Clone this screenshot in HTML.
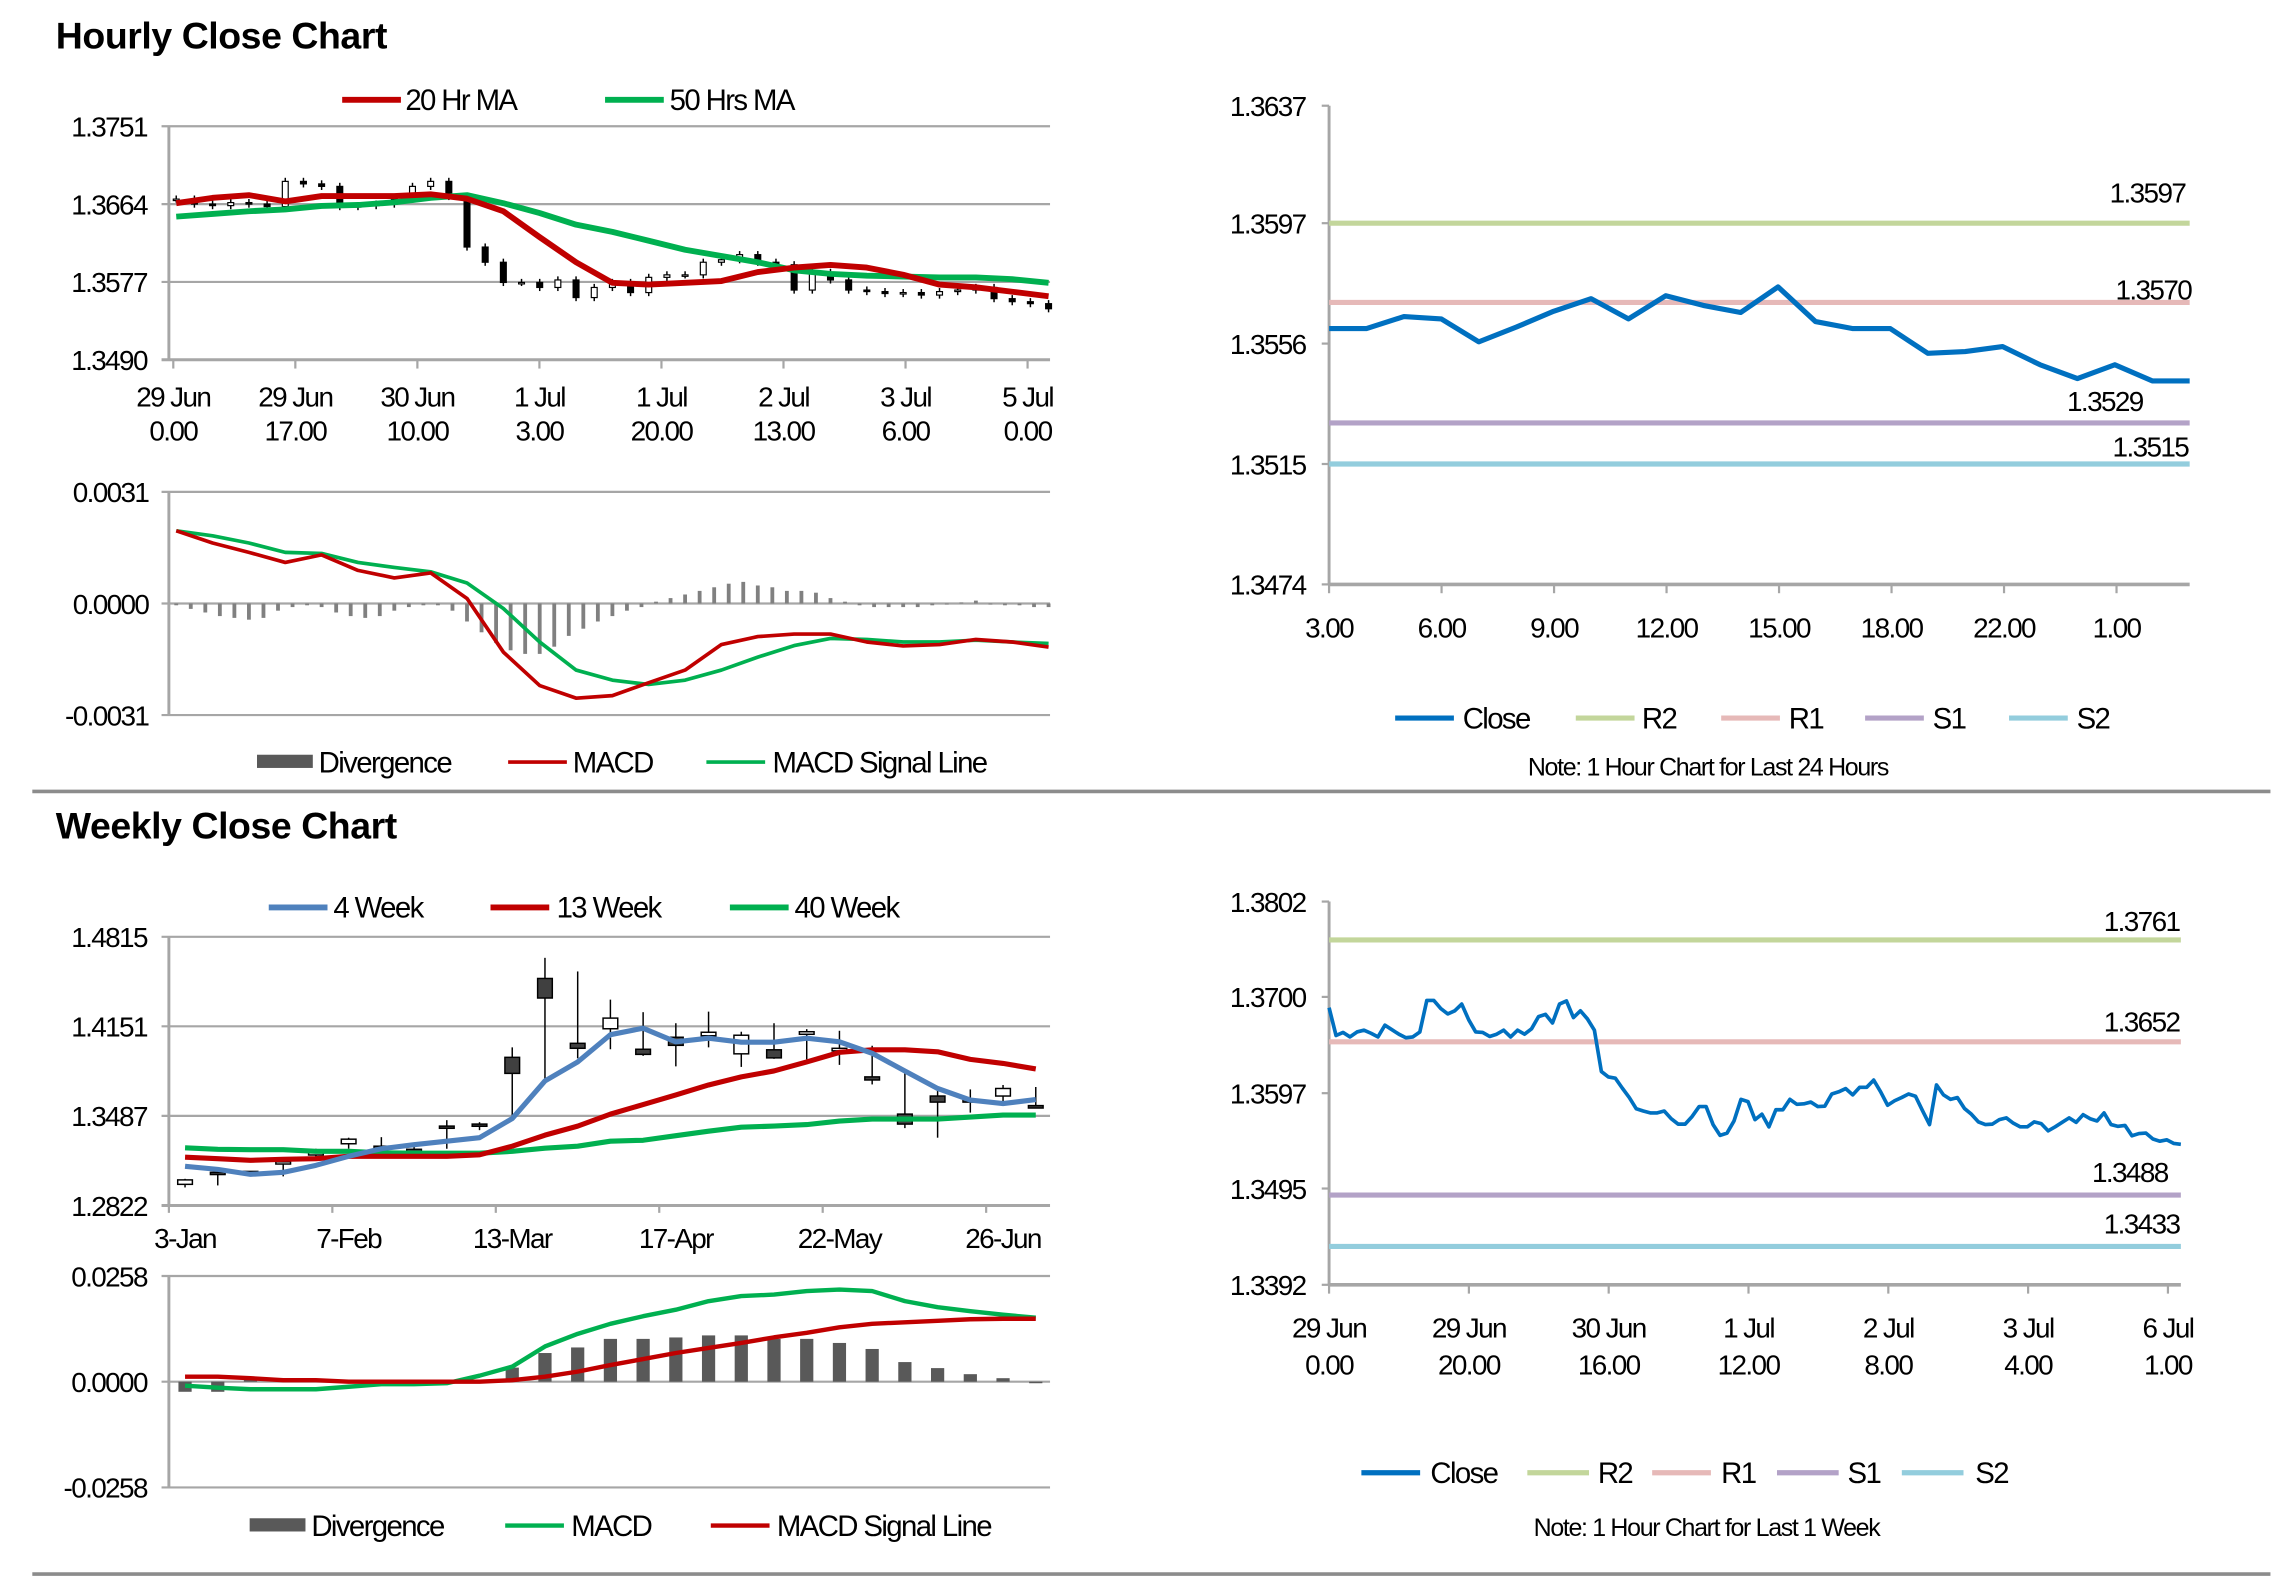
<!DOCTYPE html>
<html><head><meta charset="utf-8"><style>
html,body{margin:0;padding:0;background:#fff;}
svg{display:block;}
text{font-family:"Liberation Sans Narrow","Liberation Sans",sans-serif;fill:#000;}
.t{font-family:"Liberation Sans",sans-serif;font-weight:bold;font-size:25.5px;letter-spacing:-0.3px;}
.tk{font-size:19px;letter-spacing:-1.1px;}
.lg{font-size:20px;letter-spacing:-1.1px;}
.nt{font-size:17px;letter-spacing:-0.9px;}
</style></head><body>
<svg id="chart" width="2291" height="1577" viewBox="0 0 1560 1074" preserveAspectRatio="none" xmlns="http://www.w3.org/2000/svg">
<text class="t" x="38" y="33">Hourly Close Chart</text>
<text class="t" x="38" y="571">Weekly Close Chart</text>
<line x1="22" y1="539" x2="1546" y2="539" stroke="#8c8c8c" stroke-width="2.5"/>
<line x1="22" y1="1072" x2="1546" y2="1072" stroke="#8c8c8c" stroke-width="2.5"/>

<g>
<line x1="233" y1="68" x2="273" y2="68" stroke="#c00000" stroke-width="4"/>
<text class="lg" x="276" y="75">20 Hr MA</text>
<line x1="412" y1="68" x2="452" y2="68" stroke="#00b050" stroke-width="4"/>
<text class="lg" x="456" y="75">50 Hrs MA</text>
</g>
<g>
<rect x="175" y="514" width="38" height="9" fill="#595959"/>
<text class="lg" x="217" y="526">Divergence</text>
<line x1="346" y1="519" x2="386" y2="519" stroke="#c00000" stroke-width="2.5"/>
<text class="lg" x="390" y="526">MACD</text>
<line x1="481" y1="519" x2="521" y2="519" stroke="#00b050" stroke-width="2.5"/>
<text class="lg" x="526" y="526">MACD Signal Line</text>
</g>
<g>
<line x1="183" y1="618" x2="223" y2="618" stroke="#4f81bd" stroke-width="4"/>
<text class="lg" x="227" y="625">4 Week</text>
<line x1="334" y1="618" x2="374" y2="618" stroke="#c00000" stroke-width="4"/>
<text class="lg" x="379" y="625">13 Week</text>
<line x1="497" y1="618" x2="537" y2="618" stroke="#00b050" stroke-width="4"/>
<text class="lg" x="541" y="625">40 Week</text>
</g>
<g>
<rect x="170" y="1034" width="38" height="9" fill="#595959"/>
<text class="lg" x="212" y="1046">Divergence</text>
<line x1="344" y1="1039" x2="384" y2="1039" stroke="#00b050" stroke-width="3"/>
<text class="lg" x="389" y="1046">MACD</text>
<line x1="484" y1="1039" x2="524" y2="1039" stroke="#c00000" stroke-width="3"/>
<text class="lg" x="529" y="1046">MACD Signal Line</text>
</g>
<g>
<line x1="950" y1="489" x2="990" y2="489" stroke="#0070c0" stroke-width="3.5"/>
<text class="lg" x="996" y="496">Close</text>
<line x1="1073" y1="489" x2="1113" y2="489" stroke="#c3d69b" stroke-width="3.5"/>
<text class="lg" x="1118" y="496">R2</text>
<line x1="1172" y1="489" x2="1212" y2="489" stroke="#e6b9b8" stroke-width="3.5"/>
<text class="lg" x="1218" y="496">R1</text>
<line x1="1270" y1="489" x2="1310" y2="489" stroke="#b3a2c7" stroke-width="3.5"/>
<text class="lg" x="1316" y="496">S1</text>
<line x1="1368" y1="489" x2="1408" y2="489" stroke="#93cddd" stroke-width="3.5"/>
<text class="lg" x="1414" y="496">S2</text>
<text class="nt" x="1163" y="528" text-anchor="middle">Note: 1 Hour Chart for Last 24 Hours</text>
</g>
<g>
<line x1="927" y1="1003" x2="967" y2="1003" stroke="#0070c0" stroke-width="3.5"/>
<text class="lg" x="974" y="1010">Close</text>
<line x1="1040" y1="1003" x2="1082" y2="1003" stroke="#c3d69b" stroke-width="3.5"/>
<text class="lg" x="1088" y="1010">R2</text>
<line x1="1125" y1="1003" x2="1165" y2="1003" stroke="#e6b9b8" stroke-width="3.5"/>
<text class="lg" x="1172" y="1010">R1</text>
<line x1="1210" y1="1003" x2="1252" y2="1003" stroke="#b3a2c7" stroke-width="3.5"/>
<text class="lg" x="1258" y="1010">S1</text>
<line x1="1295" y1="1003" x2="1337" y2="1003" stroke="#93cddd" stroke-width="3.5"/>
<text class="lg" x="1345" y="1010">S2</text>
<text class="nt" x="1162" y="1046" text-anchor="middle">Note: 1 Hour Chart for  Last 1 Week</text>
</g>
</svg>
<script>
// ---- Hourly candle chart data ----
const hCloses=[1.36696,1.36640,1.36623,1.36657,1.36640,1.36612,1.36894,1.36866,1.36838,1.36612,1.36623,1.36640,1.36696,1.36838,1.36894,1.36725,1.36160,1.35990,1.35764,1.35764,1.35708,1.35792,1.35595,1.35708,1.35764,1.35651,1.35821,1.35849,1.35849,1.35990,1.36018,1.36075,1.35990,1.35962,1.35679,1.35877,1.35792,1.35679,1.35662,1.35640,1.35651,1.35623,1.35662,1.35679,1.35708,1.35583,1.35549,1.35527,1.35470];
const hMA20=[1.3665,1.3671,1.3674,1.3667,1.3673,1.3673,1.3673,1.3675,1.3670,1.3656,1.3627,1.3599,1.3576,1.3574,1.3576,1.3578,1.3588,1.3593,1.3596,1.3593,1.3585,1.3574,1.3571,1.3566,1.3561];
const hMA50=[1.3650,1.3653,1.3656,1.3658,1.3662,1.3663,1.3666,1.3671,1.3674,1.3665,1.3654,1.3641,1.3633,1.3623,1.3613,1.3606,1.3599,1.3590,1.3586,1.3584,1.3583,1.3582,1.3582,1.3580,1.3576];
const hYTicks=['1.3751','1.3664','1.3577','1.3490'];
const hXTicks1=['29 Jun','29 Jun','30 Jun','1 Jul','1 Jul','2 Jul','3 Jul','5 Jul'];
const hXTicks2=['0.00','17.00','10.00','3.00','20.00','13.00','6.00','0.00'];
// ---- Hourly MACD (x1e-4) ----
const hMacd=[20.2,16.8,14.2,11.4,13.5,9.2,7.1,8.5,1.4,-13.5,-22.8,-26.3,-25.6,-22.0,-18.5,-11.4,-9.2,-8.5,-8.5,-10.7,-11.8,-11.4,-10.0,-10.7,-12.1];
const hSignal=[20.2,18.8,16.8,14.2,13.9,11.4,10.0,8.8,5.7,-1.4,-10.7,-18.5,-21.3,-22.5,-21.3,-18.5,-14.9,-11.7,-9.7,-10.0,-10.7,-10.7,-10.2,-10.7,-11.1];
const hDiv=[-0.5,-1.5,-2.5,-3.5,-4,-4.5,-4,-2,-1,-0.5,-1,-2.5,-3.5,-4,-3.5,-2,-1,-0.5,-0.5,-2,-5,-8,-11,-13,-14,-14,-12,-9,-7,-5,-3.5,-2,-1,0.5,1.5,2.5,3.5,4.5,5.5,6,5,4.5,3.5,3.5,3,1.5,0.5,-0.5,-1,-1,-1,-1,-0.5,-0.3,0.3,0.8,-0.3,-0.5,-0.5,-1,-1];
const hMacdTicks=['0.0031','0.0000','-0.0031'];
// ---- Weekly ----
const wOpen=[1.2979,1.3068,1.3061,1.3131,1.3198,1.3280,1.3262,1.3239,1.3411,1.3426,1.3921,1.4506,1.4025,1.4133,1.3981,1.4070,1.4081,1.3947,1.3977,1.4092,1.3969,1.3776,1.3500,1.3634,1.3608,1.3634,1.3563];
const wClose=[1.3012,1.3057,1.3075,1.3146,1.3213,1.3314,1.3243,1.3228,1.3396,1.3411,1.3802,1.4361,1.3988,1.4212,1.3943,1.4010,1.4107,1.4085,1.3917,1.4111,1.3988,1.3753,1.3426,1.3589,1.3589,1.3690,1.3545];
const wHigh=[1.3020,1.3094,1.3075,1.3169,1.3243,1.3325,1.3329,1.3262,1.3455,1.3440,1.3995,1.4659,1.4558,1.4349,1.4256,1.4174,1.4260,1.4111,1.4174,1.4130,1.4118,1.4007,1.3802,1.3671,1.3683,1.3716,1.3701];
const wLow=[1.2956,1.2971,1.3046,1.3038,1.3180,1.3243,1.3217,1.3217,1.3243,1.3381,1.3485,1.3746,1.3914,1.3981,1.3932,1.3854,1.3995,1.3850,1.3910,1.3906,1.3865,1.3720,1.3396,1.3325,1.3511,1.3560,1.3545];
const w4=[1.3113,1.3090,1.3053,1.3068,1.3120,1.3187,1.3243,1.3273,1.3299,1.3325,1.3467,1.3746,1.3887,1.4089,1.4137,1.4036,1.4063,1.4033,1.4033,1.4063,1.4036,1.3951,1.3820,1.3690,1.3604,1.3578,1.3608];
const w13=[1.3180,1.3169,1.3157,1.3165,1.3169,1.3187,1.3187,1.3187,1.3187,1.3198,1.3262,1.3344,1.3411,1.3500,1.3571,1.3642,1.3716,1.3776,1.3820,1.3887,1.3958,1.3977,1.3977,1.3962,1.3906,1.3876,1.3835];
const w40=[1.3250,1.3239,1.3236,1.3236,1.3224,1.3224,1.3213,1.3210,1.3210,1.3210,1.3224,1.3247,1.3262,1.3299,1.3306,1.3340,1.3373,1.3403,1.3411,1.3422,1.3448,1.3463,1.3463,1.3463,1.3478,1.3493,1.3493];
const wYTicks=['1.4815','1.4151','1.3487','1.2822'];
const wXTicks=['3-Jan','7-Feb','13-Mar','17-Apr','22-May','26-Jun'];
const wMacd=[-9.8,-14.7,-18.4,-18.4,-18.4,-12.3,-6.1,-6.1,-3.7,14.7,36.9,86,116.8,141.3,159.8,175.7,196.6,208.9,212.6,221.2,224.9,221.2,196.6,181.9,172.1,163.5,156.1];
const wSignal=[12.3,12.3,8.6,3.7,3.7,0,0,0,0,0,3.7,12.3,24.6,40.6,55.3,70.1,82.3,94.6,108.2,119.2,132.7,141.3,145,148.7,152.4,153.6,153.6];
const wDiv=[-24.6,-24.6,6,6,6,2,1,1,1,1,34.4,70,83.6,104.5,104.5,108,113,113,104.5,104.5,94.6,79.9,47.9,33.2,18.4,8.6,-3.7];
const wMacdTicks=['0.0258','0.0000','-0.0258'];
// ---- Last 24 hours ----
const dClose=[1.35611,1.35611,1.35652,1.35644,1.35566,1.35616,1.35670,1.35713,1.35644,1.35723,1.35690,1.35666,1.35753,1.35635,1.35611,1.35611,1.35527,1.35533,1.35550,1.35488,1.35441,1.35488,1.35433,1.35433];
const dLevels=[1.3597,1.3570,1.3529,1.3515];
const dLevelLabels=['1.3597','1.3570','1.3529','1.3515'];
const dYTicks=['1.3637','1.3597','1.3556','1.3515','1.3474'];
const dXTicks=['3.00','6.00','9.00','12.00','15.00','18.00','22.00','1.00'];
// ---- Last week ----
const kClose=[1.36885,1.36587,1.36620,1.36572,1.36625,1.36644,1.36611,1.36572,1.36697,1.36649,1.36601,1.36563,1.36572,1.36625,1.36962,1.36962,1.36875,1.36818,1.36851,1.36923,1.36755,1.36625,1.36620,1.36577,1.36601,1.36644,1.36572,1.36644,1.36601,1.36659,1.36789,1.36813,1.36721,1.36923,1.36957,1.36779,1.36851,1.36765,1.36644,1.36202,1.36144,1.36130,1.36024,1.35923,1.35803,1.35779,1.35759,1.35759,1.35779,1.35697,1.35639,1.35639,1.35721,1.35827,1.35827,1.35634,1.35519,1.35543,1.35673,1.35904,1.35880,1.35687,1.35745,1.35610,1.35793,1.35793,1.35904,1.35851,1.35856,1.35875,1.35827,1.35831,1.35961,1.35985,1.36019,1.35952,1.36033,1.36033,1.36110,1.35985,1.35841,1.35889,1.35923,1.35961,1.35937,1.35783,1.35634,1.36058,1.35952,1.35904,1.35923,1.35807,1.35745,1.35663,1.35634,1.35639,1.35687,1.35706,1.35649,1.35610,1.35610,1.35663,1.35644,1.35567,1.35610,1.35658,1.35706,1.35658,1.35740,1.35697,1.35673,1.35759,1.35634,1.35615,1.35625,1.35514,1.35538,1.35543,1.35480,1.35456,1.35471,1.35432,1.35423];
const kLevels=[1.3761,1.3652,1.3488,1.3433];
const kLevelLabels=['1.3761','1.3652','1.3488','1.3433'];
const kYTicks=['1.3802','1.3700','1.3597','1.3495','1.3392'];
const kXTicks1=['29 Jun','29 Jun','30 Jun','1 Jul','2 Jul','3 Jul','6 Jul'];
const kXTicks2=['0.00','20.00','16.00','12.00','8.00','4.00','1.00'];

const NS='http://www.w3.org/2000/svg';
const svg=document.getElementById('chart');
function mk(tag,attrs,parent){const e=document.createElementNS(NS,tag);for(const k in attrs)e.setAttribute(k,attrs[k]);(parent||svg).appendChild(e);return e;}
function scale(d0,d1,r0,r1){return v=>r0+(v-d0)*(r1-r0)/(d1-d0);}
function spread(n,a,b){return i=>a+i*(b-a)/(n-1);}
function pts(arr,xf,yf){return arr.map((v,i)=>xf(i).toFixed(2)+','+yf(v).toFixed(2)).join(' ');}
const GRID='#a6a6a6';
function yLabels(labels,yf,x,name){labels.forEach(l=>{const t=mk('text',{x:x,y:yf(parseFloat(l))+7,'text-anchor':'end',class:'tk'});t.textContent=l;

});}
function seriesLine(arr,xf,yf,color,w,name){const p=mk('polyline',{points:pts(arr,xf,yf),fill:'none',stroke:color,'stroke-width':w,'stroke-linejoin':'round'});

return p;}

// ===== Chart A: hourly candles =====
(function(){
const yA=scale(1.3490,1.3751,245,86);const xA=spread(hCloses.length,120,714);const xM=spread(hMA20.length,120,714);
hYTicks.forEach((l,i)=>{const y=yA(parseFloat(l));const g=mk('line',{x1:110,y1:y,x2:715,y2:y,stroke:GRID,'stroke-width':i==3?2:1.5});

});
const ax=mk('line',{x1:115,y1:86,x2:115,y2:245,stroke:GRID,'stroke-width':2});


yLabels(hYTicks,yA,100,'hourly-y');
hXTicks1.forEach((l,i)=>{const x=118+i*83.1;const tk=mk('line',{x1:x,y1:245,x2:x,y2:251,stroke:GRID,'stroke-width':1.5});


const t=mk('text',{x:x,y:277,'text-anchor':'middle',class:'tk'});t.textContent=l;


const t2=mk('text',{x:x,y:300,'text-anchor':'middle',class:'tk'});t2.textContent=hXTicks2[i];

});
hCloses.forEach((c,i)=>{const o=i>0?hCloses[i-1]:c;const x=xA(i);const hi=Math.max(o,c)+0.0004,lo=Math.min(o,c)-0.0004;
const w=mk('line',{x1:x,y1:yA(hi),x2:x,y2:yA(lo),stroke:'#000','stroke-width':1});


const top=yA(Math.max(o,c)),bot=yA(Math.min(o,c));
const r=mk('rect',{x:x-2,y:top,width:4,height:Math.max(1,bot-top),fill:c>=o?'#fff':'#000',stroke:'#000','stroke-width':0.8});

});
seriesLine(hMA50,xM,yA,'#00b050',4,'ma-50hr-line');
seriesLine(hMA20,xM,yA,'#c00000',4,'ma-20hr-line');
})();

// ===== Chart B: hourly MACD =====
(function(){
const yB=scale(-0.0031,0.0031,487,335);const xL=spread(hMacd.length,120,714);const xD=spread(hDiv.length,120,714);
[335,487].forEach(y=>{const g=mk('line',{x1:110,y1:y,x2:715,y2:y,stroke:GRID,'stroke-width':1.5});

});
const z=mk('line',{x1:110,y1:yB(0),x2:715,y2:yB(0),stroke:GRID,'stroke-width':1.5});


const ax=mk('line',{x1:115,y1:335,x2:115,y2:487,stroke:GRID,'stroke-width':2});


yLabels(hMacdTicks,yB,101,'hourly-macd-y');
hDiv.forEach((v,i)=>{const y0=yB(0),y1=yB(v*1e-4);const b=mk('rect',{x:xD(i)-1.3,y:Math.min(y0,y1),width:2.6,height:Math.abs(y1-y0),fill:'#808080'});

});
seriesLine(hSignal.map(v=>v*1e-4),xL,yB,'#00b050',2.5,'hourly-signal-line');
seriesLine(hMacd.map(v=>v*1e-4),xL,yB,'#c00000',2.5,'hourly-macd-line');
})();

// ===== Chart C: weekly candles =====
(function(){
const yC=scale(1.2822,1.4815,821,638);const xC=i=>126+i*22.28;
wYTicks.forEach((l,i)=>{const y=yC(parseFloat(l));const g=mk('line',{x1:110,y1:y,x2:715,y2:y,stroke:GRID,'stroke-width':i==3?2:1.5});

});
const ax=mk('line',{x1:115,y1:638,x2:115,y2:821,stroke:GRID,'stroke-width':2});


yLabels(wYTicks,yC,100,'weekly-y');
wXTicks.forEach((l,i)=>{const tx=115+i*111.3;const tk=mk('line',{x1:tx,y1:821,x2:tx,y2:826,stroke:GRID,'stroke-width':1.5});


const t=mk('text',{x:126+i*111.4,y:850,'text-anchor':'middle',class:'tk'});t.textContent=l;

});
wOpen.forEach((o,i)=>{const c=wClose[i];const x=xC(i);
const w=mk('line',{x1:x,y1:yC(wHigh[i]),x2:x,y2:yC(wLow[i]),stroke:'#000','stroke-width':1});


const top=yC(Math.max(o,c)),bot=yC(Math.min(o,c));
const r=mk('rect',{x:x-5,y:top,width:10,height:Math.max(1.5,bot-top),fill:c>=o?'#fff':'#404040',stroke:'#000','stroke-width':1});

});
seriesLine(w40,xC,yC,'#00b050',3.5,'ma-40wk-line');
seriesLine(w13,xC,yC,'#c00000',3.5,'ma-13wk-line');
seriesLine(w4,xC,yC,'#4f81bd',3.5,'ma-4wk-line');
})();

// ===== Chart D: weekly MACD =====
(function(){
const yD=scale(-0.0258,0.0258,1013,869);const xC=i=>126+i*22.28;
[869,1013].forEach(y=>{const g=mk('line',{x1:110,y1:y,x2:715,y2:y,stroke:GRID,'stroke-width':1.5});

});
const z=mk('line',{x1:110,y1:yD(0),x2:715,y2:yD(0),stroke:GRID,'stroke-width':1.5});


const ax=mk('line',{x1:115,y1:869,x2:115,y2:1013,stroke:GRID,'stroke-width':2});


yLabels(wMacdTicks,yD,100,'weekly-macd-y');
wDiv.forEach((v,i)=>{const y0=yD(0),y1=yD(v*1e-4);const b=mk('rect',{x:xC(i)-4.5,y:Math.min(y0,y1),width:9,height:Math.abs(y1-y0),fill:'#595959'});

});
seriesLine(wMacd.map(v=>v*1e-4),xC,yD,'#00b050',3,'weekly-macd-line');
seriesLine(wSignal.map(v=>v*1e-4),xC,yD,'#c00000',3,'weekly-signal-line');
})();

// ===== Level charts =====
const LCOL=['#c3d69b','#e6b9b8','#b3a2c7','#93cddd'];
function levelChart(o){
const yf=scale(o.dMin,o.dMax,o.yBot,o.yTop);const xf=spread(o.close.length,o.x0,o.x1);
const ax=mk('line',{x1:o.x0,y1:o.yTop,x2:o.x0,y2:o.yBot,stroke:GRID,'stroke-width':2});


const bx=mk('line',{x1:o.x0,y1:o.yBot,x2:o.x1,y2:o.yBot,stroke:GRID,'stroke-width':2.5});


o.yTicks.forEach(l=>{const y=yf(parseFloat(l));const tk=mk('line',{x1:o.x0-5,y1:y,x2:o.x0,y2:y,stroke:GRID,'stroke-width':1.5});

});
yLabels(o.yTicks,yf,o.x0-16,o.name+'-y');
o.xTicks1.forEach((l,i)=>{const x=o.x0+i*o.xStep;const tk=mk('line',{x1:x,y1:o.yBot,x2:x,y2:o.yBot+6,stroke:GRID,'stroke-width':1.5});


const t=mk('text',{x:x,y:o.yBot+36,'text-anchor':'middle',class:'tk'});t.textContent=l;


if(o.xTicks2){const t2=mk('text',{x:x,y:o.yBot+61,'text-anchor':'middle',class:'tk'});t2.textContent=o.xTicks2[i];

}});
o.levels.forEach((v,i)=>{const y=yf(v);const l=mk('line',{x1:o.x0,y1:y,x2:o.x1,y2:y,stroke:LCOL[i],'stroke-width':3.5});


const t=mk('text',{x:o.labelX[i],y:y-o.labelOff[i],'text-anchor':'end',class:'tk'});t.textContent=o.levelLabels[i];

});
seriesLine(o.close,xf,yf,'#0070c0',o.w,o.name+'-close-line');
}
levelChart({name:'day',dMin:1.3474,dMax:1.3637,yBot:398,yTop:72,x0:905,x1:1491,close:dClose,yTicks:dYTicks,xTicks1:dXTicks,xTicks2:null,xStep:76.6,levels:dLevels,levelLabels:dLevelLabels,labelX:[1488,1492,1459,1490],labelOff:[14,2,8,5],w:3.5});
levelChart({name:'week',dMin:1.3392,dMax:1.3802,yBot:875,yTop:614,x0:905,x1:1485,close:kClose,yTicks:kYTicks,xTicks1:kXTicks1,xTicks2:kXTicks2,xStep:95.2,levels:kLevels,levelLabels:kLevelLabels,labelX:[1484,1484,1476,1484],labelOff:[6,7,9,9],w:2.5});
</script>
</body></html>
